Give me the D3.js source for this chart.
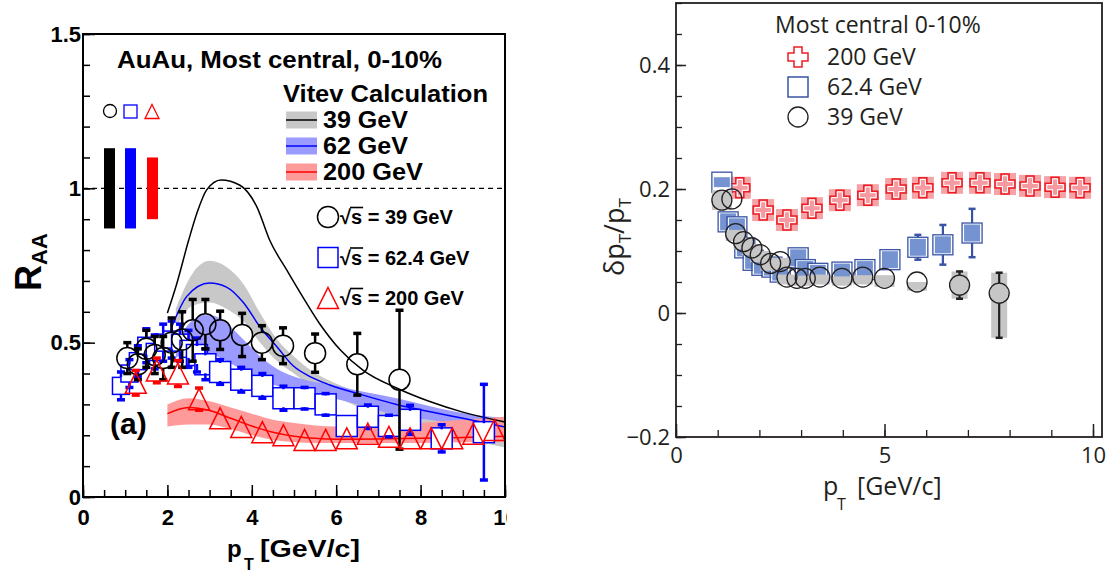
<!DOCTYPE html>
<html><head><meta charset="utf-8">
<script src="https://cdn.jsdelivr.net/npm/d3@7"></script>
<style>body{margin:0;background:#fff}</style>
</head><body>
<svg id="c" width="1106" height="575"></svg>
<script>
// ---------------- LEFT PANEL DATA (R_AA) ----------------
const pt39 = [1.05, 1.3, 1.5, 1.7, 1.9, 2.1, 2.35, 2.6, 2.9, 3.25, 3.77, 4.24, 4.74, 5.5, 6.5, 7.5];
const raa39 = [0.45, 0.43, 0.48, 0.46, 0.45, 0.50, 0.51, 0.54, 0.56, 0.54, 0.525, 0.50, 0.49, 0.466, 0.43, 0.38];
const err39 = [0.05, 0.05, 0.06, 0.06, 0.07, 0.08, 0.09, 0.10, 0.08, 0.062, 0.07, 0.055, 0.058, 0.062, 0.10, 0.225];

const pt62 = [0.9, 1.1, 1.3, 1.5, 1.7, 1.9, 2.1, 2.3, 2.5, 2.7, 2.9, 3.25, 3.75, 4.25, 4.75, 5.25, 5.75, 6.25, 6.75, 7.25, 7.75, 8.5, 9.5];
const raa62 = [0.36, 0.40, 0.44, 0.49, 0.47, 0.50, 0.51, 0.50, 0.48, 0.46, 0.43, 0.405, 0.38, 0.36, 0.32, 0.32, 0.30, 0.23, 0.26, 0.23, 0.25, 0.19, 0.21];
const err62 = [0.045, 0.045, 0.05, 0.055, 0.055, 0.06, 0.06, 0.06, 0.06, 0.055, 0.05, 0.04, 0.04, 0.04, 0.039, 0.035, 0.035, 0, 0.038, 0.035, 0.047, 0.044, 0.155];

const pt200 = [1.25, 1.75, 2.25, 2.75, 3.25, 3.75, 4.25, 4.75, 5.25, 5.75, 6.25, 6.75, 7.25, 7.75, 8.25, 8.75, 9.25, 9.75];
const raa200 = [0.37, 0.41, 0.40, 0.317, 0.255, 0.227, 0.21, 0.20, 0.185, 0.185, 0.19, 0.205, 0.195, 0.19, 0.19, 0.19, 0.205, 0.217];
const err200 = [0.04, 0.04, 0.042, 0.036, 0, 0, 0, 0, 0, 0, 0, 0, 0, 0, 0, 0, 0, 0];

// Vitev calculation curves
const th39X = [2.0, 2.22, 2.5, 2.7, 2.93, 3.27, 3.72, 4.12, 4.43, 4.83, 5.2, 5.6, 6.1, 6.64, 7.43, 8.2, 9.0, 10];
const th39Y = [0.596, 0.69, 0.83, 0.92, 0.995, 1.027, 1.01, 0.94, 0.83, 0.735, 0.65, 0.563, 0.476, 0.41, 0.353, 0.31, 0.275, 0.243];
const band39X = [2.2, 2.6, 3.0, 3.4, 3.8, 4.2, 4.6, 5.0, 5.4, 5.8, 6.3, 7.0, 8.0, 9.0, 10];
const band39Hi = [0.61, 0.725, 0.765, 0.745, 0.69, 0.595, 0.51, 0.455, 0.41, 0.38, 0.35, 0.315, 0.285, 0.265, 0.25];
const band39Lo = [0.55, 0.62, 0.63, 0.61, 0.57, 0.50, 0.44, 0.40, 0.36, 0.335, 0.305, 0.265, 0.225, 0.19, 0.16];

const th62X = [2.1, 2.46, 3.0, 3.4, 3.8, 4.2, 4.6, 4.98, 5.38, 5.85, 6.64, 7.43, 8.2, 9.0, 10];
const th62Y = [0.55, 0.65, 0.693, 0.68, 0.63, 0.55, 0.486, 0.425, 0.39, 0.363, 0.33, 0.30, 0.277, 0.255, 0.227];
const band62X = [2.2, 2.5, 2.85, 3.1, 3.4, 3.8, 4.2, 4.6, 5.0, 5.4, 5.85, 6.5, 7.43, 8.2, 9.0, 10];
const band62Hi = [0.50, 0.56, 0.59, 0.587, 0.563, 0.51, 0.455, 0.415, 0.39, 0.375, 0.365, 0.345, 0.32, 0.295, 0.272, 0.256];
const band62Lo = [0.45, 0.47, 0.47, 0.46, 0.44, 0.41, 0.38, 0.36, 0.345, 0.335, 0.322, 0.30, 0.266, 0.25, 0.233, 0.222];

const th200X = [2.0, 2.5, 3.0, 3.5, 4.0, 4.5, 5.0, 5.5, 6.0, 7.0, 8.0, 9.0, 10];
const th200Y = [0.27, 0.29, 0.28, 0.255, 0.23, 0.21, 0.197, 0.19, 0.187, 0.188, 0.19, 0.193, 0.197];
const band200Hi = [0.30, 0.32, 0.31, 0.29, 0.27, 0.25, 0.24, 0.232, 0.228, 0.23, 0.24, 0.25, 0.26];
const band200Lo = [0.228, 0.235, 0.235, 0.22, 0.20, 0.185, 0.178, 0.175, 0.175, 0.175, 0.175, 0.177, 0.178];

const vitevLabels = ["39 GeV", "62 GeV", "200 GeV"];
const dataLabelsL = ["39 GeV", "62.4 GeV", "200 GeV"];
const normUnc = [0.13, 0.13, 0.10];
const yMajorL = [0, 0.5, 1, 1.5];
const xMajorL = [0, 2, 4, 6, 8, 10];

// ---------------- RIGHT PANEL DATA (dpT/pT) ----------------
const ptR200 = [1.53, 2.09, 2.66, 3.26, 3.93, 4.6, 5.28, 5.92, 6.62, 7.29, 7.89, 8.49, 9.09, 9.69];
const res200 = [0.202, 0.166, 0.15, 0.169, 0.182, 0.19, 0.20, 0.202, 0.21, 0.21, 0.208, 0.205, 0.203, 0.202];

const ptR62 = [1.1, 1.25, 1.46, 1.65, 1.85, 2.06, 2.3, 2.5, 2.93, 3.1, 3.4, 3.98, 4.53, 5.13, 5.8, 6.4, 7.1];
const res62 = [0.211, 0.147, 0.139, 0.105, 0.085, 0.077, 0.074, 0.066, 0.089, 0.07, 0.064, 0.066, 0.07, 0.086, 0.106, 0.11, 0.129];
const errR62 = [0, 0, 0, 0, 0, 0, 0, 0, 0, 0, 0, 0, 0, 0, 0.02, 0.032, 0.039];
const sysR62 = [0.008, 0.015, 0.015, 0.015, 0.015, 0.015, 0.015, 0.015, 0.015, 0.015, 0.015, 0.015, 0.015, 0.015, 0.015, 0.015, 0.015];

const ptR39 = [1.1, 1.34, 1.43, 1.62, 1.82, 2.02, 2.27, 2.5, 2.66, 2.9, 3.1, 3.45, 3.98, 4.48, 5.0, 5.78, 6.8, 7.75];
const res39 = [0.182, 0.184, 0.128, 0.115, 0.105, 0.094, 0.08, 0.083, 0.058, 0.056, 0.056, 0.058, 0.056, 0.058, 0.056, 0.05, 0.045, 0.032];
const errR39Hi = [0, 0, 0, 0, 0, 0, 0, 0, 0, 0, 0, 0, 0, 0, 0, 0, 0.022, 0.033];
const errR39Lo = [0, 0, 0, 0, 0, 0, 0, 0, 0, 0, 0, 0, 0, 0, 0, 0, 0.022, 0.072];
const sysR39Hi = [0.016, 0.0, 0.006, 0.006, 0.006, 0.006, 0.006, 0.006, 0.004, 0.004, 0.004, 0.004, 0.003, 0.003, 0.005, 0.0, 0.022, 0.033];
const sysR39Lo = [0.016, 0.0, 0.012, 0.012, 0.012, 0.012, 0.012, 0.012, 0.012, 0.012, 0.012, 0.012, 0.012, 0.012, 0.014, 0.014, 0.022, 0.072];

const legendR = ["200 GeV", "62.4 GeV", "39 GeV"];
const yMajorR = [-0.2, 0, 0.2, 0.4];
const xMajorR = [0, 5, 10];

// ---------------- DRAWING ----------------
const fontL = "'Liberation Sans', Arial, Helvetica, sans-serif";
const fontR = "'Open Sans', 'Noto Sans', sans-serif";
const svg = d3.select("#c");
svg.append("rect").attr("width", 1106).attr("height", 575).attr("fill", "#fff");
svg.append("defs").append("clipPath").attr("id", "clipL")
  .append("rect").attr("x", 0).attr("y", 0).attr("width", 507).attr("height", 575);

const L = svg.append("g").attr("clip-path", "url(#clipL)");
const xL = d3.scaleLinear().domain([0, 10]).range([83, 505]);
const yL = d3.scaleLinear().domain([0, 1.5]).range([497, 34]);

function band(g, xs, lo, hi, xS, yS, color) {
  const pts = xs.map((x, i) => ({ x, lo: lo[i], hi: hi[i] }));
  g.append("path").datum(pts)
    .attr("d", d3.area().x(d => xS(d.x)).y0(d => yS(d.lo)).y1(d => yS(d.hi)).curve(d3.curveMonotoneX))
    .attr("fill", color);
}
function curve(g, xs, ys, xS, yS, color, w) {
  const pts = xs.map((x, i) => ({ x, y: ys[i] }));
  g.append("path").datum(pts)
    .attr("d", d3.line().x(d => xS(d.x)).y(d => yS(d.y)).curve(d3.curveMonotoneX))
    .attr("fill", "none").attr("stroke", color).attr("stroke-width", w);
}
function errBars(g, xs, ys, eHi, eLo, xS, yS, half, color, lw, capW, capH) {
  xs.forEach((x, i) => {
    if (!eHi[i] && !eLo[i]) return;
    const cx = xS(x), cy = yS(ys[i]);
    const top = yS(ys[i] + eHi[i]), bot = yS(ys[i] - eLo[i]);
    if (cy - half > top) g.append("line").attr("x1", cx).attr("x2", cx).attr("y1", cy - half).attr("y2", top)
      .attr("stroke", color).attr("stroke-width", lw);
    if (cy + half < bot) g.append("line").attr("x1", cx).attr("x2", cx).attr("y1", cy + half).attr("y2", bot)
      .attr("stroke", color).attr("stroke-width", lw);
    [top, bot].forEach(yy => g.append("rect").attr("x", cx - capW / 2).attr("y", yy - capH / 2)
      .attr("width", capW).attr("height", capH).attr("fill", color));
  });
}
const triPath = (s) => `M0,${-s / 2}L${s / 2},${s / 2}L${-s / 2},${s / 2}Z`;

// bands & curves
band(L, band39X, band39Lo, band39Hi, xL, yL, "#c8c8c8");
band(L, band62X, band62Lo, band62Hi, xL, yL, "#9a9aff");
band(L, th200X, band200Lo, band200Hi, xL, yL, "#ff9a9a");
curve(L, th39X, th39Y, xL, yL, "#000", 1.5);
curve(L, th62X, th62Y, xL, yL, "#0000ff", 1.5);
curve(L, th200X, th200Y, xL, yL, "#ff0000", 1.5);

// dashed unity line
L.append("line").attr("x1", xL(0)).attr("x2", xL(10)).attr("y1", yL(1)).attr("y2", yL(1))
  .attr("stroke", "#000").attr("stroke-width", 1.2).attr("stroke-dasharray", "5,4");

// 62.4 GeV squares
const sqSize = x => (x < 2.6 ? 17 : 21);
pt62.forEach((x, i) => {
  const s = sqSize(x);
  L.append("rect").attr("x", xL(x) - s / 2).attr("y", yL(raa62[i]) - s / 2).attr("width", s).attr("height", s)
    .attr("fill", "#fff").attr("stroke", "#0000ff").attr("stroke-width", 1.5);
});
errBars(L, pt62, raa62, err62, err62, xL, yL, 9, "#0000ff", 2.5, 8, 3.5);

// 39 GeV circles
errBars(L, pt39, raa39, err39, err39, xL, yL, 10.5, "#000", 2.5, 8, 3.5);
pt39.forEach((x, i) => {
  L.append("circle").attr("cx", xL(x)).attr("cy", yL(raa39[i])).attr("r", 10.5)
    .attr("fill", "none").attr("stroke", "#000").attr("stroke-width", 1.5);
});

// 200 GeV triangles
errBars(L, pt200, raa200, err200, err200, xL, yL, 10.5, "#ff0000", 2.5, 8, 3.5);
pt200.forEach((x, i) => {
  L.append("path").attr("d", triPath(21)).attr("transform", `translate(${xL(x)},${yL(raa200[i])})`)
    .attr("fill", "none").attr("stroke", "#ff0000").attr("stroke-width", 1.5);
});

// normalization bars & small markers
const colsL = ["#000", "#0000ff", "#ff0000"];
const barX = [104, 125, 147];
normUnc.forEach((u, i) => {
  L.append("rect").attr("x", barX[i]).attr("y", yL(1 + u)).attr("width", 11).attr("height", yL(1 - u) - yL(1 + u))
    .attr("fill", colsL[i]);
});
L.append("circle").attr("cx", 110).attr("cy", 111).attr("r", 6.5).attr("fill", "none").attr("stroke", "#000").attr("stroke-width", 1.3);
L.append("rect").attr("x", 124).attr("y", 105).attr("width", 13).attr("height", 13).attr("fill", "none").attr("stroke", "#0000ff").attr("stroke-width", 1.3);
L.append("path").attr("d", triPath(14)).attr("transform", "translate(152,111.5)").attr("fill", "none").attr("stroke", "#ff0000").attr("stroke-width", 1.3);

// axes (left)
function styleAxis(g, font, size, weight, color, lw) {
  g.select(".domain").remove();
  g.selectAll(".tick line").attr("stroke", color).attr("stroke-width", lw);
  g.selectAll(".tick text").attr("font-family", font).attr("font-size", size).attr("font-weight", weight).attr("fill", color);
}
const gyL = L.append("g").attr("transform", `translate(${xL(0)},0)`);
gyL.call(d3.axisLeft(yL).tickValues(d3.range(0, 1.501, 0.1)).tickSize(-7).tickFormat(""));
styleAxis(gyL, fontL, 22, "bold", "#000", 1.5);
const gyL2 = L.append("g").attr("transform", `translate(${xL(0)},0)`);
gyL2.call(d3.axisLeft(yL).tickValues(yMajorL).tickSize(-12).tickPadding(2).tickFormat(d3.format("~g")));
styleAxis(gyL2, fontL, 22, "bold", "#000", 1.5);
const gxL = L.append("g").attr("transform", `translate(0,${yL(0)})`);
gxL.call(d3.axisBottom(xL).tickValues(d3.range(0, 10.01, 0.5)).tickSize(-7).tickFormat(""));
styleAxis(gxL, fontL, 22, "bold", "#000", 1.5);
const gxL2 = L.append("g").attr("transform", `translate(0,${yL(0)})`);
gxL2.call(d3.axisBottom(xL).tickValues(xMajorL).tickSize(-12).tickPadding(12).tickFormat(d3.format("d")));
styleAxis(gxL2, fontL, 22, "bold", "#000", 1.5);

// frame (left)
L.append("rect").attr("x", xL(0)).attr("y", yL(1.5)).attr("width", xL(10) - xL(0)).attr("height", yL(0) - yL(1.5))
  .attr("fill", "none").attr("stroke", "#000").attr("stroke-width", 2);

// texts (left)
const tL = (x, y, s, size, extra) => {
  const t = L.append("text").attr("x", x).attr("y", y).attr("font-family", fontL).attr("font-weight", "bold")
    .attr("font-size", size).attr("fill", "#000").text(s);
  if (extra) t.attr("textLength", extra).attr("lengthAdjust", "spacingAndGlyphs");
  return t;
};
tL(117, 68, "AuAu, Most central, 0-10%", 24, 325);
tL(283, 102, "Vitev Calculation", 23, 205);
const bandCols = ["#c8c8c8", "#9a9aff", "#ff9a9a"];
const vitevW = [85, 85, 100];
vitevLabels.forEach((lab, i) => {
  const cy = 120 + i * 26;
  L.append("rect").attr("x", 286).attr("y", cy - 8.5).attr("width", 31).attr("height", 17).attr("fill", bandCols[i]);
  L.append("line").attr("x1", 286).attr("x2", 317).attr("y1", cy).attr("y2", cy).attr("stroke", colsL[i]).attr("stroke-width", 1.5);
  tL(323, cy + 8, lab, 23, vitevW[i]);
});
dataLabelsL.forEach((lab, i) => {
  const cy = 217 + i * 40.5;
  if (i === 0) L.append("circle").attr("cx", 328).attr("cy", cy).attr("r", 10.5).attr("fill", "none").attr("stroke", "#000").attr("stroke-width", 1.5);
  if (i === 1) L.append("rect").attr("x", 318).attr("y", cy - 10).attr("width", 20).attr("height", 20).attr("fill", "none").attr("stroke", "#0000ff").attr("stroke-width", 1.5);
  if (i === 2) L.append("path").attr("d", triPath(21)).attr("transform", `translate(328,${cy})`).attr("fill", "none").attr("stroke", "#ff0000").attr("stroke-width", 1.5);
  const t = L.append("text").attr("x", 340).attr("y", cy + 7).attr("font-family", fontL).attr("font-weight", "bold")
    .attr("font-size", 20).attr("fill", "#000");
  t.append("tspan").text("\u221A");
  t.append("tspan").text("s");
  t.append("tspan").text(" = " + lab);
  const n = t.node();
  const x1 = n.getEndPositionOfChar(1).x;
  L.append("line").attr("x1", n.getEndPositionOfChar(0).x - 1).attr("x2", x1 + 1).attr("y1", cy + 7 - 16.5).attr("y2", cy + 7 - 16.5)
    .attr("stroke", "#000").attr("stroke-width", 1.6);
});
tL(110, 434, "(a)", 30);

// axis titles (left)
const rl = L.append("text").attr("transform", "translate(41,291) rotate(-90)").attr("font-family", fontL).attr("font-weight", "bold").attr("fill", "#000");
rl.append("tspan").attr("font-size", 36).text("R");
rl.append("tspan").attr("font-size", 22).attr("dy", 6).text("AA");
tL(227, 557, "p", 24);
tL(244, 570, "T", 16);
tL(260, 557, "[GeV/c]", 24, 100);

// ---------------- RIGHT PANEL ----------------
const R = svg.append("g");
const xR = d3.scaleLinear().domain([0, 10]).range([676, 1093]);
const yR = d3.scaleLinear().domain([-0.2, 0.5]).range([437, 3]);
const xMaxR = xR.invert(1102);

// 200 GeV crosses
const crossPath = (s, a) => `M${-a / 2},${-s / 2}H${a / 2}V${-a / 2}H${s / 2}V${a / 2}H${a / 2}V${s / 2}H${-a / 2}V${a / 2}H${-s / 2}V${-a / 2}H${-a / 2}Z`;
ptR200.forEach((x, i) => {
  const cx = xR(x), cy = yR(res200[i]);
  R.append("rect").attr("x", cx - 11).attr("y", cy - 11).attr("width", 22).attr("height", 22).attr("fill", "#f5a3a6");
  R.append("path").attr("d", crossPath(20, 8)).attr("transform", `translate(${cx},${cy})`).attr("fill", "none").attr("stroke", "#ed1c24").attr("stroke-width", 1.5);
  R.append("path").attr("d", crossPath(16.5, 5)).attr("transform", `translate(${cx},${cy})`).attr("fill", "#f49aa0").attr("stroke", "#fff").attr("stroke-width", 1);
});

// 62.4 GeV squares
ptR62.forEach((x, i) => {
  const cx = xR(x), cy = yR(res62[i]);
  const h = Math.min(yR(res62[i] - sysR62[i]) - yR(res62[i] + sysR62[i]), 17);
  R.append("rect").attr("x", cx - 9).attr("y", cy - 10).attr("width", 18).attr("height", 20).attr("fill", "#fff");
  R.append("rect").attr("x", cx - 8).attr("y", cy - h / 2).attr("width", 16).attr("height", h).attr("fill", "#7593d0");
  R.append("rect").attr("x", cx - 10).attr("y", cy - 10).attr("width", 20).attr("height", 20).attr("fill", "none")
    .attr("stroke", "#3953a4").attr("stroke-width", 1.3);
});
errBars(R, ptR62, res62, errR62, errR62, xR, yR, 10, "#3953a4", 2.2, 7, 2.5);

// 39 GeV circles
ptR39.forEach((x, i) => {
  const cx = xR(x);
  const top = yR(res39[i] + sysR39Hi[i]), bot = yR(res39[i] - sysR39Lo[i]);
  if (bot - top > 0) R.append("rect").attr("x", cx - (i >= 16 ? 8 : 10)).attr("y", top).attr("width", i >= 16 ? 16 : 20).attr("height", bot - top).attr("fill", "#c6c6c6");
});
ptR39.forEach((x, i) => {
  R.append("circle").attr("cx", xR(x)).attr("cy", yR(res39[i])).attr("r", 10)
    .attr("fill", i >= 16 ? "#c6c6c6" : "none").attr("stroke", "#231f20").attr("stroke-width", 1.3);
});
errBars(R, ptR39, res39, errR39Hi, errR39Lo, xR, yR, 10, "#231f20", 2.2, 7, 2.5);

// axes (right)
const gyR = R.append("g").attr("transform", `translate(${xR(0)},0)`);
gyR.call(d3.axisLeft(yR).tickValues(d3.range(-0.2, 0.501, 0.05)).tickSize(-6).tickFormat(""));
styleAxis(gyR, fontR, 22, "normal", "#231f20", 1.3);
const gyR2 = R.append("g").attr("transform", `translate(${xR(0)},0)`);
gyR2.call(d3.axisLeft(yR).tickValues(yMajorR).tickSize(-10).tickPadding(6).tickFormat(d3.format("~g")));
styleAxis(gyR2, fontR, 22, "normal", "#231f20", 1.5);
const gxR = R.append("g").attr("transform", `translate(0,${yR(-0.2)})`);
gxR.call(d3.axisBottom(xR).tickValues(d3.range(0, 10.01, 1)).tickSize(-7).tickFormat(""));
styleAxis(gxR, fontR, 22, "normal", "#231f20", 1.3);
const gxR2 = R.append("g").attr("transform", `translate(0,${yR(-0.2)})`);
gxR2.call(d3.axisBottom(xR).tickValues(xMajorR).tickSize(-13).tickPadding(10).tickFormat(d3.format("d")));
styleAxis(gxR2, fontR, 22, "normal", "#231f20", 1.5);
R.append("rect").attr("x", xR(0)).attr("y", yR(0.5)).attr("width", xR(xMaxR) - xR(0)).attr("height", yR(-0.2) - yR(0.5))
  .attr("fill", "none").attr("stroke", "#231f20").attr("stroke-width", 1.8);

// legend (right)
const tR = (x, y, s, size) => R.append("text").attr("x", x).attr("y", y).attr("font-family", fontR)
  .attr("font-size", size).attr("fill", "#231f20").text(s);
tR(775, 33, "Most central 0-10%", 23);
legendR.forEach((lab, i) => {
  const cy = 57 + i * 30;
  if (i === 0) R.append("path").attr("d", crossPath(20, 8)).attr("transform", `translate(798,${cy})`).attr("fill", "#fff").attr("stroke", "#ed1c24").attr("stroke-width", 1.5);
  if (i === 1) R.append("rect").attr("x", 788).attr("y", cy - 10).attr("width", 20).attr("height", 20).attr("fill", "none").attr("stroke", "#3953a4").attr("stroke-width", 1.5);
  if (i === 2) R.append("circle").attr("cx", 798).attr("cy", cy).attr("r", 10).attr("fill", "none").attr("stroke", "#231f20").attr("stroke-width", 1.3);
  tR(827, cy + 8, lab, 23);
});

// axis titles (right)
tR(823, 495, "p", 25);
tR(837, 510, "T", 16);
tR(857, 495, "[GeV/c]", 25);
const yl = R.append("text").attr("transform", "translate(624,276) rotate(-90)").attr("font-family", fontR).attr("fill", "#231f20");
yl.append("tspan").attr("font-size", 27).text("\u03B4p");
yl.append("tspan").attr("font-size", 17).attr("dy", 7).text("T");
yl.append("tspan").attr("font-size", 27).attr("dy", -7).text("/p");
yl.append("tspan").attr("font-size", 17).attr("dy", 7).text("T");
</script>
</body></html>
